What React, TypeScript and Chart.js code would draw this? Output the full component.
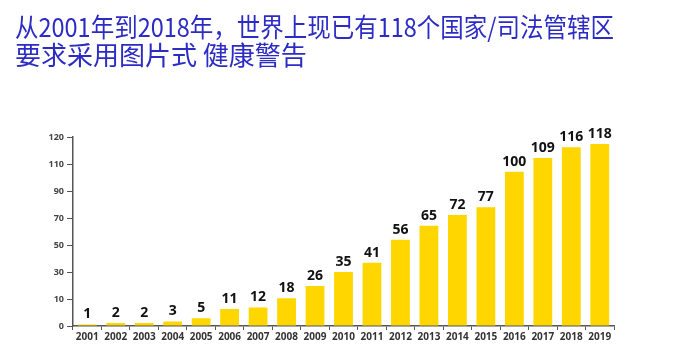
import React, { useEffect, useRef } from "react";
import { Chart, registerables } from "chart.js";

Chart.register(...registerables);

const years = ["2001","2002","2003","2004","2005","2006","2007","2008","2009","2010","2011","2012","2013","2014","2015","2016","2017","2018","2019"];
const counts = [1,2,2,3,5,11,12,18,26,35,41,56,65,72,77,100,109,116,118];
const yTickLabels = ["0","10","30","50","70","90","110","120"];
const titleLines = ["从2001年到2018年，世界上现已有118个国家/司法管辖区", "要求采用图片式 健康警告"];

const valueLabels = {
  id: "valueLabels",
  afterDatasetsDraw(chart: any) {
    const ctx = chart.ctx;
    const meta = chart.getDatasetMeta(0);
    ctx.save();
    ctx.font = "bold 14px 'Open Sans', sans-serif";
    ctx.fillStyle = "#111";
    ctx.textAlign = "center";
    ctx.textBaseline = "bottom";
    meta.data.forEach((bar: any, i: number) => {
      ctx.fillText(String(chart.data.datasets[0].data[i]), bar.x, bar.y - 3);
    });
    ctx.restore();
  },
};

export default function App() {
  const ref = useRef<HTMLCanvasElement>(null);
  useEffect(() => {
    const chart = new Chart(ref.current!, {
      type: "bar",
      data: {
        labels: years,
        datasets: [{ data: counts, backgroundColor: "#FFD600", barPercentage: 0.66, categoryPercentage: 1 }],
      },
      options: {
        animation: false,
        responsive: true,
        maintainAspectRatio: false,
        layout: { padding: { left: 7, right: 55, top: 0, bottom: 14 } },
        plugins: {
          legend: { display: false },
          tooltip: { enabled: false },
          title: {
            display: true,
            text: titleLines,
            align: "start",
            color: "#2c2cc4",
            font: { family: "'Noto Sans CJK SC', sans-serif", size: 26, weight: "normal", lineHeight: 1.08 },
            padding: { top: 5, bottom: 68 },
          },
        },
        scales: {
          x: {
            grid: { display: true, drawOnChartArea: false, drawTicks: true, tickLength: 4, color: "#555", offset: true },
            border: { display: true, color: "#555", width: 1.5 },
            ticks: { color: "#333", font: { family: "'Open Sans', sans-serif", size: 10, weight: "bold" }, padding: 1, maxRotation: 0, autoSkip: false },
          },
          y: {
            min: 0,
            max: 122.5,
            afterFit: (s: any) => { s.width = 58; },
            grid: { display: true, drawOnChartArea: false, drawTicks: true, tickLength: 6, color: "#555" },
            border: { display: true, color: "#555", width: 1.5 },
            ticks: {
              stepSize: 17.5,
              color: "#444",
              font: { family: "'Open Sans', sans-serif", size: 9, weight: "bold" },
              padding: 3,
              callback: (_v: any, i: number) => yTickLabels[i],
            },
          },
        },
      },
      plugins: [valueLabels],
    });
    return () => chart.destroy();
  }, []);
  return (
    <div style={{ width: "100%", height: 350 }}>
      <canvas ref={ref} />
    </div>
  );
}
